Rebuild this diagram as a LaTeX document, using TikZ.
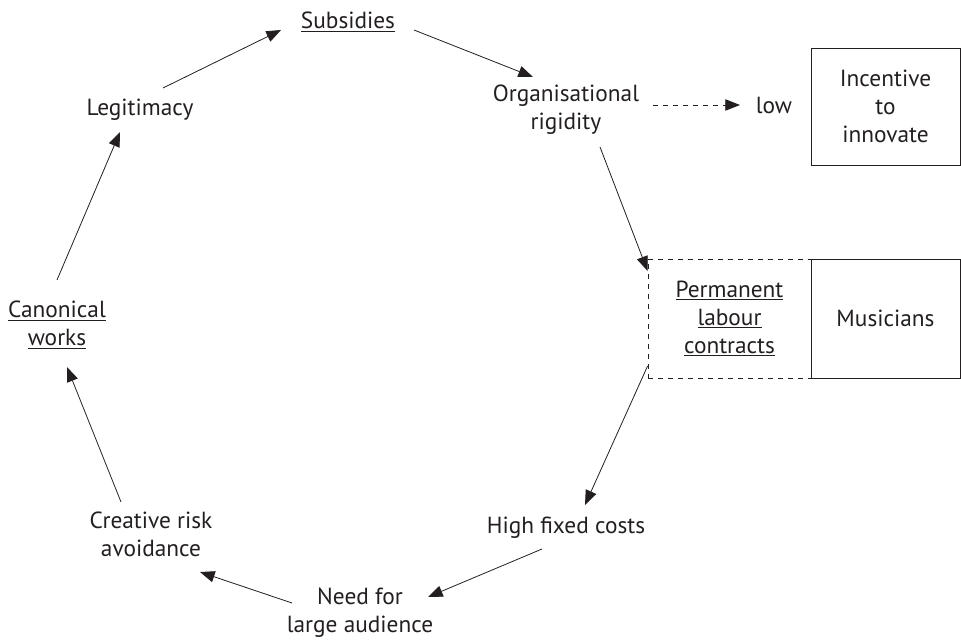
\documentclass[tikz,border=0pt]{standalone}
\usepackage{fontspec}
\setmainfont{PT Sans}
\usetikzlibrary{arrows.meta}
\definecolor{ink}{HTML}{231F20}
\begin{document}
\begin{tikzpicture}[x=0.75pt,y=-0.75pt,
  lbl/.style={align=center,inner sep=0pt,font=\fontsize{17.5pt}{21pt}\selectfont,text=ink},
  arr/.style={draw=ink,line width=0.6pt,-{Triangle[length=11pt,width=8.5pt]}},
  dasharr/.style={arr,dash pattern=on 4pt off 3.5pt},
  solidbox/.style={lbl,draw=ink,line width=0.6pt,minimum width=111.75pt,minimum height=89.25pt},
  dashbox/.style={lbl,draw=ink,line width=0.6pt,dash pattern=on 4pt off 3.5pt,minimum width=122.25pt,minimum height=89.25pt}
]
\useasboundingbox (0,0) rectangle (961,641);
\node[lbl] (sub) at (348,22) {\underline{Subsidies}};
\node[lbl] (org) at (566,110) {Organisational\\rigidity};
\node[lbl] (low) at (774,105) {low};
\node[solidbox,minimum height=87.75pt] (inc) at (885.5,106.5) {Incentive\\to\\innovate};
\node[dashbox] (perm) at (729.5,318.5) {\underline{Permanent}\\\underline{labour}\\\underline{contracts}};
\node[solidbox] (mus) at (885.5,318.5) {Musicians};
\node[lbl] (high) at (566,528) {High fixed costs};
\node[lbl] (need) at (360,613) {Need for\\large audience};
\node[lbl] (cre) at (151,534) {Creative risk\\avoidance};
\node[lbl] (can) at (57,325) {\underline{Canonical}\\\underline{works}};
\node[lbl] (leg) at (140,110) {Legitimacy};

\draw[arr] ([shift={(23,-22)}]leg.center) -- ([shift={(-67,8)}]sub.center);
\draw[arr] ([shift={(66,8)}]sub.center) -- ([shift={(-33,-33)}]org.center);
\draw[dasharr] ([shift={(87,-5)}]org.center) -- ([shift={(-34,0)}]low.center);
\draw[arr] ([shift={(34,37)}]org.center) -- ([shift={(0,-47.5)}]perm.west);
\draw[arr] ([shift={(0,47.5)}]perm.west) -- ([shift={(19,-23)}]high.center);
\draw[arr] ([shift={(-24,21)}]high.center) -- ([shift={(68,-16)}]need.center);
\draw[arr] ([shift={(-68,-10)}]need.center) -- ([shift={(49,38)}]cre.center);
\draw[arr] ([shift={(-30,-32)}]cre.center) -- ([shift={(10,42)}]can.center);
\draw[arr] ([shift={(0,-45)}]can.center) -- ([shift={(-20,22)}]leg.center);
\end{tikzpicture}
\end{document}
